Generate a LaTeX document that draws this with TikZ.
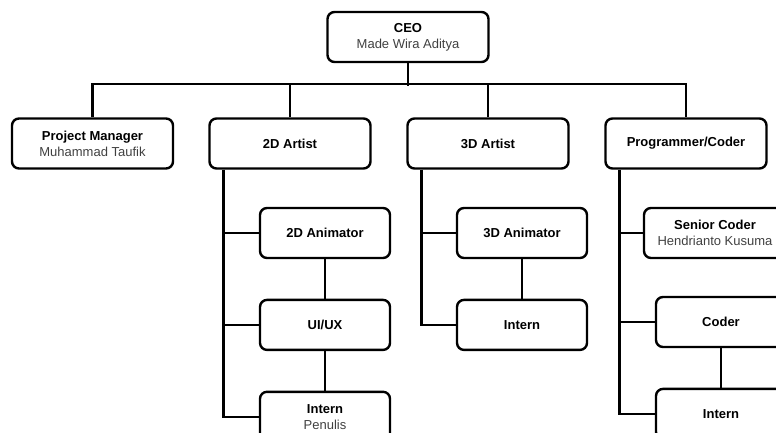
\documentclass[tikz,border=0pt]{standalone}
\usepackage{fontspec}
\setmainfont{Liberation Sans}
\usepackage{tikz}
\usetikzlibrary{positioning}
\newcommand{\pname}{\mdseries\color{black!75}}

\begin{document}
\begin{tikzpicture}[x=1pt, y=-1pt,
          role/.style={draw=black, line width=2.4pt, rounded corners=7pt,
                      minimum width=161pt, minimum height=50pt,
                      font=\fontsize{13}{16}\selectfont\bfseries,
                      align=center, inner sep=2pt},
          sub/.style={role, minimum width=130pt},
          link/.style={line width=2.4pt, black}
        ]
          \clip (0,0) rectangle (776,433);
          % top level
          \node[role] (ceo)   at (408,37)    {CEO\\{\pname Made Wira Aditya}};
          \node[role] (pm)    at (92.5,143.5) {Project Manager\\{\pname Muhammad Taufik}};
          \node[role] (art2d) at (290,143.5)  {2D Artist};
          \node[role] (art3d) at (488,143.5)  {3D Artist};
          \node[role] (prog)  at (686,143.5)  {Programmer/Coder};
          % 2D team
          \node[sub] (anim2d)   at (325,233) {2D Animator};
          \node[sub, below=39.5pt of anim2d] (uiux) {UI/UX};
          \node[sub, below=39.5pt of uiux] (intern2d) {Intern\\{\pname Penulis}};
          % 3D team
          \node[sub] (anim3d)   at (522,233) {3D Animator};
          \node[sub, below=39.5pt of anim3d] (intern3d) {Intern};
          % coders
          \node[sub, minimum width=142pt] (senior) at (715,233) {Senior Coder\\{\pname Hendrianto Kusuma}};
          \node[sub] (coder)   at (721,322) {Coder};
          \node[sub, below=39.5pt of coder] (internc) {Intern};
          % bus under the CEO
          \draw[link] (ceo.south) -- ++(0,23);
          \draw[link] (pm.north) -- ++(0,-33) -| (prog.north);
          \draw[link] (art2d.north) -- ++(0,-33);
          \draw[link] (art3d.north) -- ++(0,-33);
          % team spines
          \draw[link] ([xshift=15pt]art2d.south west) |- (intern2d.west);
          \draw[link] ([xshift=15pt]art2d.south west |- anim2d.west) -- (anim2d.west);
          \draw[link] ([xshift=15pt]art2d.south west |- uiux.west) -- (uiux.west);
          \draw[link] (anim2d) -- (uiux);
          \draw[link] (uiux) -- (intern2d);
          \draw[link] ([xshift=15pt]art3d.south west) |- (intern3d.west);
          \draw[link] ([xshift=15pt]art3d.south west |- anim3d.west) -- (anim3d.west);
          \draw[link] (anim3d) -- (intern3d);
          \draw[link] ([xshift=15pt]prog.south west) |- (internc.west);
          \draw[link] ([xshift=15pt]prog.south west |- senior.west) -- (senior.west);
          \draw[link] ([xshift=15pt]prog.south west |- coder.west) -- (coder.west);
          \draw[link] (coder) -- (internc);
        \end{tikzpicture}
\end{document}
